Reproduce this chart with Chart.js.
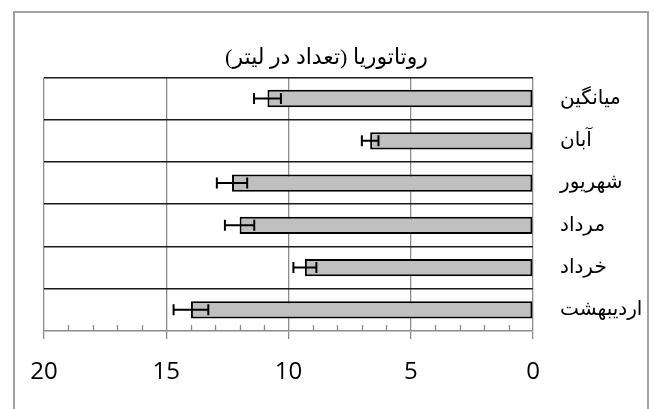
<!DOCTYPE html>
<html>
<head>
<meta charset="utf-8">
<script src="https://cdn.jsdelivr.net/npm/chart.js@4"></script>
<style>
    html, body { margin: 0; padding: 0; background: #fff; overflow: hidden; }
    #frame {
        position: absolute; left: 13px; top: 11px; width: 632px; height: 420px;
        border: 2px solid #a0a0a0; border-bottom: none;
    }
    #wrap { position: absolute; left: 0; top: 0; width: 653px; height: 409px; }
</style>
</head>
<body>
<div id="frame"></div>
<div id="wrap"><canvas id="myBarChart" dir="rtl" width="653" height="409"></canvas></div>
<script>
    const months = ["میانگین", "آبان", "شهریور", "مرداد", "خرداد", "اردیبهشت"];
    const counts = [10.86, 6.66, 12.31, 12.0, 9.33, 13.99]; // mean count per litre
    const errors = [0.55, 0.34, 0.62, 0.6, 0.47, 0.71];
    const xTicks = [0, 5, 10, 15, 20];
    const chartTitle = "روتاتوریا (تعداد در لیتر)";

    const GREY = "#8c8c8c";
    const ARABIC_FONT = "'Times New Roman', 'Liberation Serif', 'DejaVu Serif', 'DejaVu Sans', serif";

    // small ticks every 1 unit, pointing up from the axis line
    const minorTicks = {
        id: "minorTicks",
        afterDraw(chart) {
            const x = chart.scales.x;
            const ctx = chart.ctx;
            const bottom = chart.chartArea.bottom;
            ctx.save();
            ctx.strokeStyle = GREY;
            ctx.lineWidth = 1.3;
            for (let v = x.min; v <= x.max; v++) {
                if (v % 5 === 0) continue;
                const px = Math.round(x.getPixelForValue(v)) + 0.5;
                ctx.beginPath();
                ctx.moveTo(px, bottom);
                ctx.lineTo(px, bottom - 6);
                ctx.stroke();
            }
            ctx.restore();
        },
    };

    // error bars drawn on top of each bar
    const errorBars = {
        id: "errorBars",
        afterDatasetsDraw(chart) {
            const x = chart.scales.x;
            const ctx = chart.ctx;
            const meta = chart.getDatasetMeta(0);
            ctx.save();
            ctx.strokeStyle = "#000";
            ctx.lineWidth = 2;
            meta.data.forEach((bar, i) => {
                const y = bar.y;
                const x1 = x.getPixelForValue(counts[i] - errors[i]);
                const x2 = x.getPixelForValue(counts[i] + errors[i]);
                ctx.beginPath();
                ctx.moveTo(x1, y);
                ctx.lineTo(x2, y);
                ctx.moveTo(x1, y - 5.5);
                ctx.lineTo(x1, y + 5.5);
                ctx.moveTo(x2, y - 5.5);
                ctx.lineTo(x2, y + 5.5);
                ctx.stroke();
            });
            ctx.restore();
        },
    };

    new Chart(document.getElementById("myBarChart"), {
        type: "bar",
        data: {
            labels: months,
            datasets: [
                {
                    data: counts,
                    backgroundColor: "#c0c0c0",
                    borderColor: "#000",
                    borderWidth: 2,
                    borderSkipped: false,
                    barPercentage: 0.41,
                    categoryPercentage: 1,
                },
            ],
        },
        plugins: [minorTicks, errorBars],
        options: {
            indexAxis: "y",
            responsive: false,
            animation: false,
            devicePixelRatio: 1,
            layout: { padding: 0 },
            scales: {
                x: {
                    reverse: true,
                    min: 0,
                    max: 20,
                    afterBuildTicks: (s) => {
                        s.ticks = xTicks.map((v) => ({ value: v }));
                    },
                    afterFit: (s) => {
                        s.height = 78;
                    },
                    border: { display: true, color: GREY, width: 1.5 },
                    grid: {
                        color: GREY,
                        lineWidth: 1.3,
                        tickLength: 8,
                    },
                    ticks: {
                        color: "#000",
                        padding: 19,
                        font: { family: "'Open Sans', sans-serif", size: 24 },
                    },
                },
                y: {
                    position: "right",
                    afterFit: (s) => {
                        s.width = 120;
                    },
                    border: { display: false },
                    grid: {
                        offset: true,
                        drawTicks: false,
                        lineWidth: 1.5,
                        color: (c) => (c.type === "tick" ? "#1a1a1a" : "transparent"),
                    },
                    ticks: {
                        color: "#000",
                        padding: 27,
                        font: { family: ARABIC_FONT, size: 20 },
                    },
                },
                // empty left axis, only keeps the left margin of the plot
                yLeft: {
                    type: "linear",
                    axis: "y",
                    position: "left",
                    afterFit: (s) => {
                        s.width = 44;
                    },
                    border: { display: false },
                    grid: { display: false },
                    ticks: { display: false },
                },
            },
            plugins: {
                legend: { display: false },
                tooltip: { enabled: false },
                title: {
                    display: true,
                    text: chartTitle,
                    color: "#000",
                    padding: { top: 45, bottom: 6 },
                    font: { family: ARABIC_FONT, size: 22, weight: "normal" },
                },
            },
        },
    });
</script>
</body>
</html>
